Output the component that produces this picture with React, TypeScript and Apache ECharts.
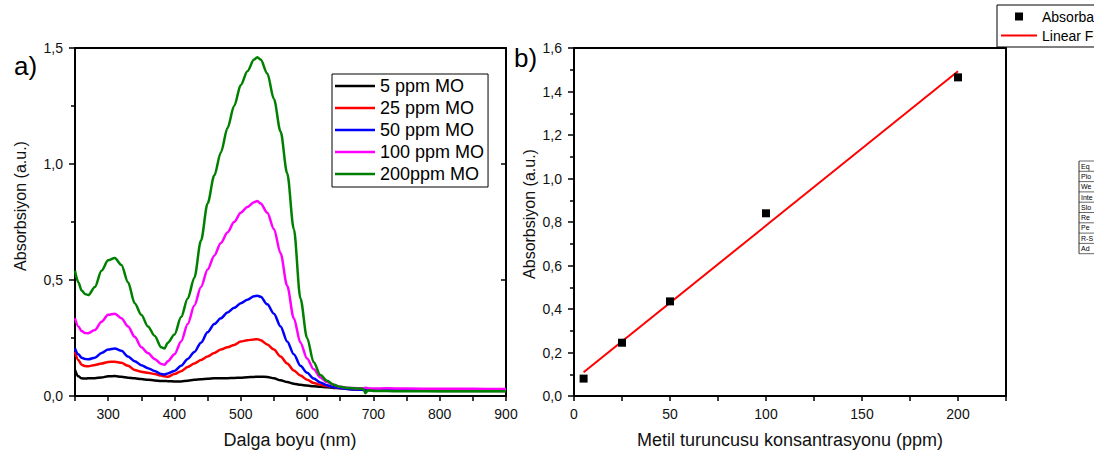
import React, { useEffect, useRef } from "react";
import * as echarts from "echarts";

const FONT = '"Liberation Sans", Arial, Helvetica, sans-serif';

// Panel a) UV-Vis spectra
const wavelengths = [250, 255, 260, 265, 270, 280, 290, 300, 310, 320, 330, 340, 350, 360, 370, 380, 385, 390, 400, 410, 420, 430, 440, 450, 460, 470, 480, 490, 500, 510, 520, 525, 530, 540, 550, 560, 570, 580, 590, 600, 610, 620, 630, 640, 650, 660, 670, 680, 685, 688, 692, 700, 720, 750, 800, 850, 900];
const mo5 = [0.112, 0.085, 0.076, 0.075, 0.076, 0.077, 0.08, 0.085, 0.086, 0.083, 0.079, 0.076, 0.073, 0.07, 0.067, 0.065, 0.065, 0.064, 0.063, 0.063, 0.066, 0.07, 0.072, 0.074, 0.077, 0.077, 0.077, 0.078, 0.079, 0.081, 0.082, 0.083, 0.083, 0.082, 0.076, 0.068, 0.06, 0.053, 0.048, 0.045, 0.042, 0.04, 0.038, 0.035, 0.033, 0.031, 0.029, 0.028, 0.027, 0.026, 0.026, 0.025, 0.024, 0.023, 0.022, 0.022, 0.022];
const mo25 = [0.19, 0.155, 0.135, 0.129, 0.128, 0.134, 0.14, 0.147, 0.148, 0.143, 0.13, 0.112, 0.105, 0.1, 0.095, 0.088, 0.085, 0.083, 0.095, 0.107, 0.125, 0.14, 0.155, 0.17, 0.185, 0.2, 0.21, 0.22, 0.235, 0.24, 0.244, 0.245, 0.24, 0.222, 0.2, 0.17, 0.14, 0.11, 0.088, 0.07, 0.056, 0.048, 0.043, 0.038, 0.034, 0.031, 0.029, 0.028, 0.027, 0.027, 0.027, 0.026, 0.026, 0.025, 0.025, 0.025, 0.025];
const mo50 = [0.205, 0.18, 0.165, 0.16, 0.158, 0.165, 0.185, 0.2, 0.205, 0.195, 0.17, 0.15, 0.133, 0.12, 0.108, 0.095, 0.093, 0.097, 0.108, 0.13, 0.16, 0.19, 0.23, 0.275, 0.31, 0.335, 0.36, 0.38, 0.4, 0.415, 0.43, 0.432, 0.428, 0.395, 0.355, 0.3, 0.235, 0.18, 0.13, 0.1, 0.075, 0.058, 0.046, 0.038, 0.034, 0.03, 0.028, 0.027, 0.026, 0.026, 0.026, 0.026, 0.025, 0.025, 0.025, 0.025, 0.025];
const mo100 = [0.335, 0.3, 0.28, 0.272, 0.27, 0.285, 0.32, 0.35, 0.355, 0.335, 0.3, 0.255, 0.21, 0.185, 0.16, 0.138, 0.135, 0.15, 0.18, 0.235, 0.31, 0.39, 0.47, 0.545, 0.605, 0.66, 0.705, 0.75, 0.79, 0.815, 0.835, 0.84, 0.83, 0.79, 0.72, 0.615, 0.475, 0.335, 0.23, 0.162, 0.115, 0.08, 0.06, 0.048, 0.04, 0.036, 0.034, 0.033, 0.033, 0.036, 0.033, 0.032, 0.033, 0.032, 0.031, 0.031, 0.03];
const mo200 = [0.54, 0.49, 0.455, 0.44, 0.435, 0.47, 0.54, 0.585, 0.595, 0.565, 0.49, 0.4, 0.35, 0.3, 0.26, 0.21, 0.205, 0.23, 0.265, 0.34, 0.42, 0.51, 0.67, 0.83, 0.95, 1.05, 1.155, 1.25, 1.34, 1.4, 1.45, 1.46, 1.45, 1.39, 1.28, 1.14, 0.96, 0.72, 0.42, 0.25, 0.145, 0.09, 0.066, 0.048, 0.04, 0.035, 0.033, 0.032, 0.03, 0.012, 0.025, 0.022, 0.022, 0.02, 0.02, 0.02, 0.02];
const spectraNames = ["5 ppm MO", "25 ppm MO", "50 ppm MO", "100 ppm MO", "200ppm MO"];
const spectraColors = ["#000000", "#ff0000", "#0000ff", "#ff00ff", "#008000"];

// Panel b) calibration
const concentrations = [5, 25, 50, 100, 200];
const absorbance = [0.08, 0.245, 0.435, 0.84, 1.465];
const tableRows = ["Eq", "Plo", "We", "Inte", "Slo", "Re", "Pe", "R-S", "Ad"];

function linearFit(xs: number[], ys: number[]) {
  const n = xs.length;
  const mx = xs.reduce((a, b) => a + b, 0) / n;
  const my = ys.reduce((a, b) => a + b, 0) / n;
  let sxy = 0, sxx = 0;
  for (let i = 0; i < n; i++) {
    sxy += (xs[i] - mx) * (ys[i] - my);
    sxx += (xs[i] - mx) * (xs[i] - mx);
  }
  const slope = sxy / sxx;
  return { slope, intercept: my - slope * mx };
}

export default function App() {
  const ref = useRef<HTMLDivElement>(null);
  useEffect(() => {
    if (!ref.current) return;
    const chart = echarts.init(ref.current, null, { renderer: "svg" });
    const spectra = [mo5, mo25, mo50, mo100, mo200];
    const fit = linearFit(concentrations, absorbance);
    const xMin = concentrations[0];
    const xMax = concentrations[concentrations.length - 1];
    const fitData = [
      [xMin, fit.intercept + fit.slope * xMin],
      [xMax, fit.intercept + fit.slope * xMax],
    ];
    const axisLine = { show: true, onZero: false, lineStyle: { color: "#000", width: 2 } };
    const label = { fontSize: 14, color: "#111", fontFamily: FONT };
    const comma = (v: number) => v.toFixed(1).replace(".", ",");
    const clipX = 1094;

    const tableTop = 161;
    const rowH = 10.3;
    const tableLeft = 1079;
    const tableW = clipX - tableLeft;
    const tableEls: any[] = [
      { type: "line", shape: { x1: tableLeft, y1: tableTop, x2: tableLeft, y2: tableTop + rowH * tableRows.length }, style: { stroke: "#000", lineWidth: 0.8 } },
    ];
    for (let i = 0; i <= tableRows.length; i++) {
      tableEls.push({ type: "line", shape: { x1: tableLeft, y1: tableTop + rowH * i, x2: tableLeft + tableW, y2: tableTop + rowH * i }, style: { stroke: "#000", lineWidth: 0.6 } });
    }
    tableRows.forEach((t, i) => {
      tableEls.push({ type: "text", x: tableLeft + 2, y: tableTop + rowH * i + rowH / 2, style: { text: t, fontSize: 7, fontFamily: FONT, fill: "#000", align: "left", verticalAlign: "middle" } });
    });

    chart.setOption({
      animation: false,
      backgroundColor: "#fff",
      textStyle: { fontFamily: FONT },
      grid: [
        { left: 75, top: 48, width: 431, height: 348 },
        { left: 574, top: 48, width: 432, height: 348 },
      ],
      xAxis: [
        {
          gridIndex: 0, type: "value", min: 250, max: 900, interval: 50, position: "bottom",
          axisLine, axisTick: { show: true, length: 5, lineStyle: { color: "#000", width: 1.5 } },
          axisLabel: { ...label, margin: 11, formatter: (v: number) => (v % 100 === 0 ? String(v) : "") },
          splitLine: { show: false },
        },
        {
          gridIndex: 0, type: "value", min: 250, max: 900, position: "top",
          axisLine, axisTick: { show: false }, axisLabel: { show: false }, splitLine: { show: false },
        },
        {
          gridIndex: 1, type: "value", min: 0, max: 225, interval: 25, position: "bottom",
          axisLine, axisTick: { show: true, length: 5, lineStyle: { color: "#000", width: 1.5 } },
          axisLabel: { ...label, margin: 11, formatter: (v: number) => (v % 50 === 0 ? String(v) : "") },
          splitLine: { show: false },
        },
        {
          gridIndex: 1, type: "value", min: 0, max: 225, position: "top",
          axisLine, axisTick: { show: false }, axisLabel: { show: false }, splitLine: { show: false },
        },
      ],
      yAxis: [
        {
          gridIndex: 0, type: "value", min: 0, max: 1.5, interval: 0.5, position: "left",
          axisLine, axisTick: { show: true, length: 6, lineStyle: { color: "#000", width: 1.5 } },
          minorTick: { show: true, splitNumber: 2, length: 4, lineStyle: { color: "#000", width: 1.5 } },
          axisLabel: { ...label, margin: 12, formatter: (v: number) => comma(v) },
          splitLine: { show: false }, minorSplitLine: { show: false },
        },
        {
          gridIndex: 0, type: "value", min: 0, max: 1.5, interval: 0.5, position: "right",
          axisLine, axisTick: { show: true, inside: true, length: 5, lineStyle: { color: "#000", width: 1.5 } },
          axisLabel: { show: false }, splitLine: { show: false },
        },
        {
          gridIndex: 1, type: "value", min: 0, max: 1.6, interval: 0.2, position: "left",
          axisLine, axisTick: { show: true, length: 6, lineStyle: { color: "#000", width: 1.5 } },
          minorTick: { show: true, splitNumber: 2, length: 4, lineStyle: { color: "#000", width: 1.5 } },
          axisLabel: { ...label, margin: 12, formatter: (v: number) => comma(v) },
          splitLine: { show: false }, minorSplitLine: { show: false },
        },
        {
          gridIndex: 1, type: "value", min: 0, max: 1.6, position: "right",
          axisLine, axisTick: { show: false }, axisLabel: { show: false }, splitLine: { show: false },
        },
      ],
      legend: [
        {
          data: spectraNames.map((n) => ({ name: n, icon: "path://M0,0H40V2.6H0Z" })),
          left: 332, top: 74, orient: "vertical",
          itemWidth: 40, itemHeight: 14, itemGap: 0, itemTextGap: 6, symbolKeepAspect: true,
          textStyle: { fontSize: 18, lineHeight: 22, color: "#000", fontFamily: FONT },
          borderColor: "#000", borderWidth: 1, borderRadius: 0, padding: [1, 4, 2, 3],
          backgroundColor: "#fff",
        },
        {
          data: [
            { name: "Absorbance", icon: "path://M0,0H1V1H0Z" },
            { name: "Linear Fit", icon: "path://M0,0H36V2H0Z" },
          ],
          left: 997, top: 5, orient: "vertical",
          itemWidth: 36, itemHeight: 8, itemGap: 0, itemTextGap: 6, symbolKeepAspect: true,
          textStyle: { fontSize: 14, lineHeight: 19, color: "#000", fontFamily: FONT, width: 58, overflow: "truncate", ellipsis: "" },
          borderColor: "#000", borderWidth: 1, borderRadius: 0, padding: [2, 4, 2, 4],
          backgroundColor: "#fff",
        },
      ],
      series: [
        ...spectra.map((arr, k) => ({
          name: spectraNames[k], type: "line", xAxisIndex: 0, yAxisIndex: 0,
          data: wavelengths.map((w, i) => [w, arr[i]]),
          symbol: "none", showSymbol: false, smooth: 0.3, smoothMonotone: "x",
          color: spectraColors[k],
          lineStyle: { color: spectraColors[k], width: 2.5 },
          z: 2 + k,
        })),
        {
          name: "Linear Fit", type: "line", xAxisIndex: 2, yAxisIndex: 2,
          data: fitData, symbol: "none", showSymbol: false, color: "#ff0000",
          lineStyle: { color: "#ff0000", width: 2 }, z: 2,
        },
        {
          name: "Absorbance", type: "scatter", xAxisIndex: 2, yAxisIndex: 2,
          data: concentrations.map((c, i) => [c, absorbance[i]]),
          symbol: "rect", symbolSize: 8, color: "#000",
          itemStyle: { color: "#000", opacity: 1 }, z: 3,
        },
      ],
      graphic: [
        { type: "text", x: 14, y: 66, style: { text: "a)", fontSize: 26, fontFamily: FONT, fill: "#000", align: "left", verticalAlign: "middle" } },
        { type: "text", x: 514, y: 58, style: { text: "b)", fontSize: 26, fontFamily: FONT, fill: "#000", align: "left", verticalAlign: "middle" } },
        { type: "text", x: 20, y: 206, rotation: Math.PI / 2, style: { text: "Absorbsiyon (a.u.)", fontSize: 16, fontFamily: FONT, fill: "#111", align: "center", verticalAlign: "middle" } },
        { type: "text", x: 529, y: 214, rotation: Math.PI / 2, style: { text: "Absorbsiyon (a.u.)", fontSize: 16, fontFamily: FONT, fill: "#111", align: "center", verticalAlign: "middle" } },
        { type: "text", x: 290, y: 440, style: { text: "Dalga boyu (nm)", fontSize: 18, fontFamily: FONT, fill: "#111", align: "center", verticalAlign: "middle" } },
        { type: "text", x: 790, y: 440, style: { text: "Metil turuncusu konsantrasyonu (ppm)", fontSize: 18, fontFamily: FONT, fill: "#111", align: "center", verticalAlign: "middle" } },
        { type: "group", children: tableEls },
        { type: "rect", z: 100, shape: { x: clipX, y: 0, width: 1105 - clipX, height: 454 }, style: { fill: "#fff" } },
      ],
    });
    return () => chart.dispose();
  }, []);
  return <div ref={ref} style={{ position: "fixed", left: 0, top: 0, width: 1105, height: 454 }} />;
}
